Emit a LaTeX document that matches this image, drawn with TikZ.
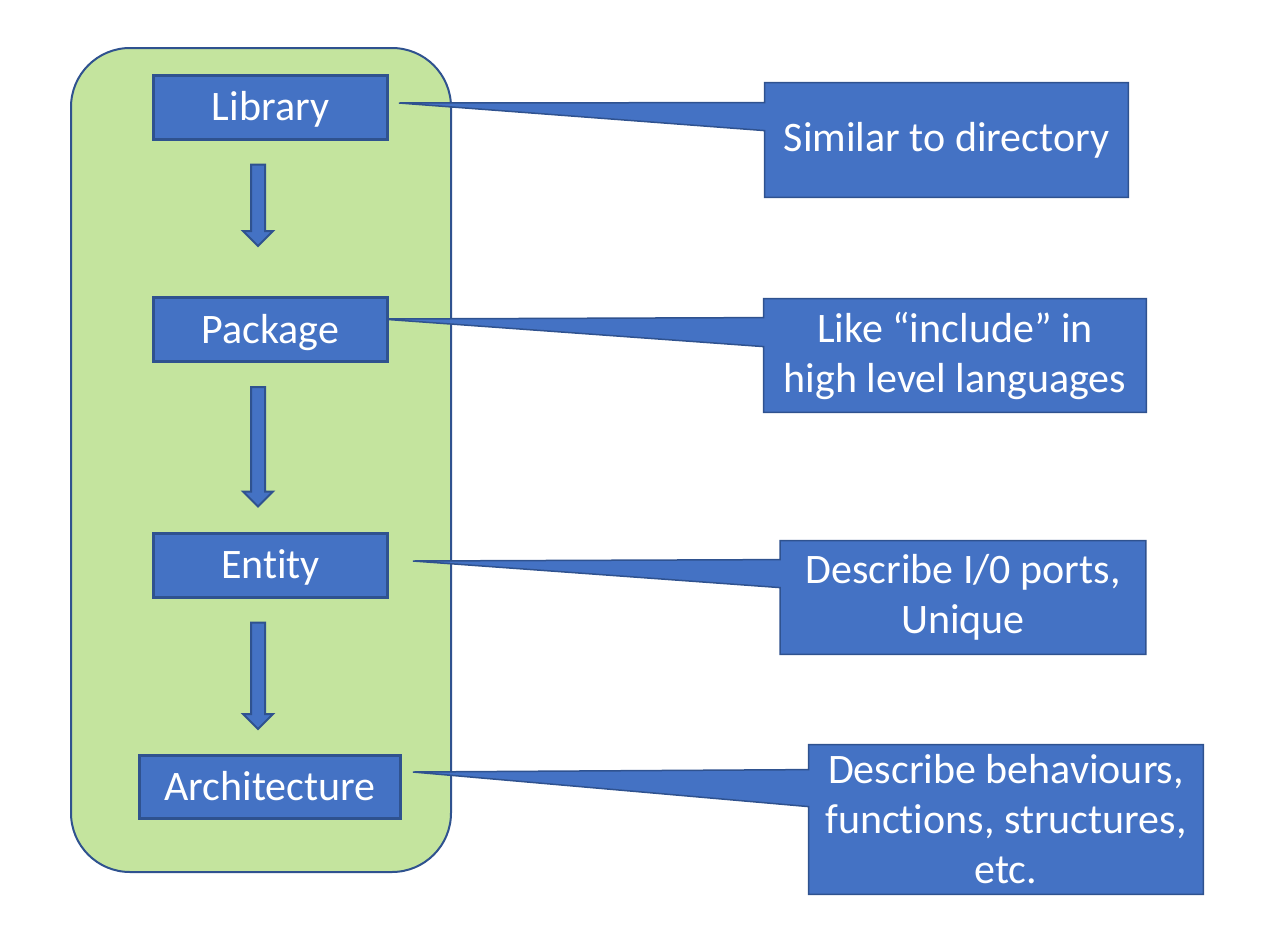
\documentclass[tikz,border=0pt]{standalone}
\usepackage{fontspec}
\setmainfont{Carlito}[Ligatures=NoCommon]
\usetikzlibrary{positioning}
\usetikzlibrary{calc}
\usetikzlibrary{backgrounds}

\begin{document}
\begin{tikzpicture}[x=0.5pt, y=-0.5pt]
    \definecolor{boxfill}{HTML}{4472C4}
\definecolor{boxborder}{HTML}{2F528F}
\definecolor{panel}{RGB}{196,228,158}

\tikzset{
    white text/.style={
        text=white, align=center,
        font=\fontsize{21}{25}\selectfont,
    },
    flow box/.style={
        draw=boxborder, fill=boxfill, line width=1.5pt,
        rectangle, inner sep=0pt, white text,
        text height=13.5pt, text depth=0pt,
        minimum width=117pt, minimum height=32pt,
    },
    note box/.style={
        rectangle, inner sep=0pt, white text,
    },
    note shape/.style={
        draw=boxborder, fill=boxfill, line width=.75pt,
    },
    flow arrow/.style={
        draw=boxborder, fill=boxfill, line width=1pt,
    },
    group panel/.style={
        draw=boxborder, fill=panel, line width=1pt,
        rounded corners=29.5pt,
    },
}

\useasboundingbox (0, 0) rectangle (1285, 937);

\node[flow box] at (270.5, 107) (lib) {Library};
\node[flow box] at (270.5, 329.5) (pkg) {Package};
\node[flow box] at (270.5, 565) (ent) {Entity};
\node[flow box, minimum width=130.5pt, minimum height=31.5pt] at (270, 787) (arch) {Architecture};

\node[note box, minimum width=181.5pt, minimum height=57pt]
    at (946.5, 140) (lib-note) {Similar to directory};
\node[note box, minimum width=191pt, minimum height=56.5pt]
    at (955, 355.5) (pkg-note) {Like “include” in\\high level languages};
\node[note box, minimum width=182.5pt, minimum height=56.5pt]
    at (963, 597.5) (ent-note) {Describe I/0 ports,\\Unique};
\node[note box, minimum width=197pt, minimum height=74.5pt]
    at (1006, 819.5) (arch-note) {Describe behaviours,\\functions, structures,\\etc.};

\coordinate (lib-tip) at ($(lib.east)+(10, -4)$);
\coordinate (pkg-tip) at ($(pkg.east)+(-8, -10.5)$);
\coordinate (ent-tip) at ($(ent.east)+(24, -4)$);
\coordinate (arch-tip) at ($(arch.east)+(11, -15)$);

\begin{scope}[on background layer]
    \draw[group panel] (71, 48) rectangle (451, 872);

    \foreach \n/\topgap/\botgap in {lib/20/48, pkg/19/48, ent/19/47, arch/25/62} {
        \draw[note shape] (\n-note.north west) -- (\n-note.north east)
            -- (\n-note.south east) -- (\n-note.south west)
            -- ($(\n-note.north west)+(0, \botgap)$) -- (\n-tip)
            -- ($(\n-note.north west)+(0, \topgap)$) -- cycle;
    }
\end{scope}

    % block arrows between the boxes
    \foreach \a/\b/\gap in {lib/pkg/50, pkg/ent/25, ent/arch/25} {
        \coordinate (\a-out) at ($(\a.south)+(-12.5, 24)$);
        \coordinate (\b-top) at (\a-out |- \b.north);
        \coordinate (\b-in) at ($(\b-top)+(0, -\gap)$);
        \draw[flow arrow] ($(\a-out)+(-7, 0)$) -- ($(\b-in)+(-7, -15)$)
            -- ($(\b-in)+(-15, -15)$) -- (\b-in) -- ($(\b-in)+(15, -15)$)
            -- ($(\b-in)+(7, -15)$) -- ($(\a-out)+(7, 0)$) -- cycle;
    }
\end{tikzpicture}
\end{document}
